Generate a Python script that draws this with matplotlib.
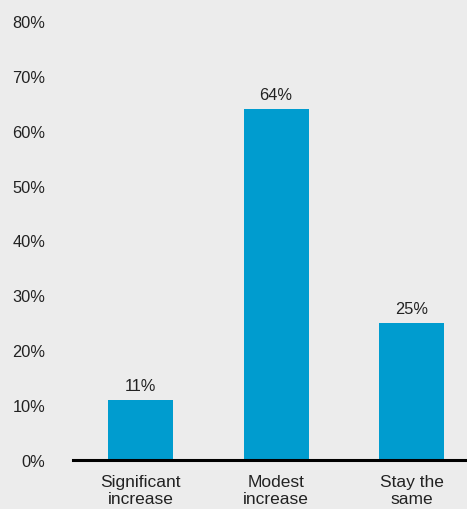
import numpy as np
import matplotlib.pyplot as plt

plt.rcParams['font.family'] = ['Liberation Sans', 'DejaVu Sans']

categories = ["Significant\nincrease", "Modest\nincrease", "Stay the\nsame"]
shares = [11, 64, 25]
yticks = [0, 10, 20, 30, 40, 50, 60, 70, 80]

bg = '#ececec'
blue = '#009ccf'

fig = plt.figure(figsize=(4.67, 5.10), dpi=100, facecolor=bg)
ax = fig.add_axes([0.156, 0.096, 0.844, 0.861], facecolor=bg)

x = np.arange(len(categories))
ax.bar(x, shares, width=0.48, color=blue, zorder=2)

for xi, v in zip(x, shares):
    ax.text(xi, v + 1.3, f"{v}%", ha='center', va='bottom', fontsize=11.8, color='#222222')

ax.set_xlim(-0.5, 2.41)
ax.set_ylim(0, 80)
ax.set_yticks(yticks)
ax.set_yticklabels([f"{t}%" for t in yticks], fontsize=11.8, color='#222222')
ax.set_xticks(x)
ax.set_xticklabels(categories, fontsize=12.5, color='#222222', linespacing=1.2)

for s in ['top', 'right', 'left']:
    ax.spines[s].set_visible(False)
ax.spines['bottom'].set_linewidth(2.2)
ax.spines['bottom'].set_color('black')
ax.spines['bottom'].set_zorder(3)
ax.tick_params(axis='both', length=0)
ax.tick_params(axis='y', pad=20)
ax.tick_params(axis='x', pad=10)

fig.savefig('out.png', dpi=100, facecolor=bg)
